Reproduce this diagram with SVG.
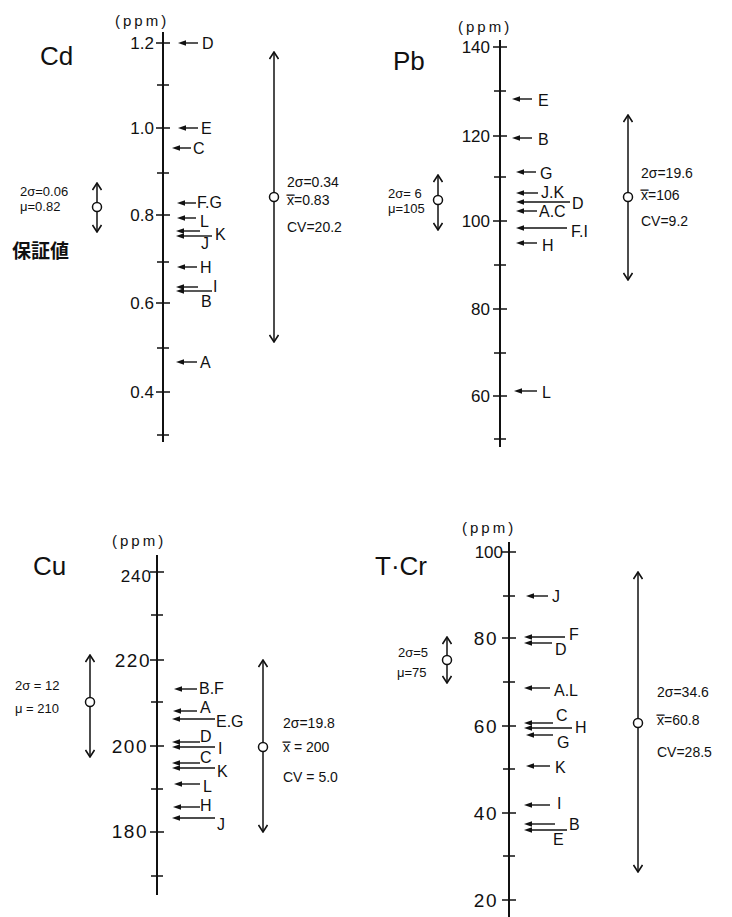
<svg xmlns="http://www.w3.org/2000/svg" width="732" height="917" viewBox="0 0 732 917">
<style>
text{font-family:"Liberation Sans","DejaVu Sans","Noto Sans CJK JP",sans-serif;fill:#111}
.ttl{font-size:26px}
.ppm{font-size:15px;letter-spacing:3px}
.tl{font-size:17px;text-anchor:end}
.tl2{font-size:19px;text-anchor:end;letter-spacing:1.5px}
.lb{font-size:16px}
.st{font-size:14px}
.ss{font-size:13px}
.ax{stroke:#111;stroke-width:2;fill:none}
.tk{stroke:#111;stroke-width:1.6;fill:none}
.pt{stroke:#111;stroke-width:1.4;fill:none;marker-end:url(#ph)}
.rg{stroke:#111;stroke-width:1.5;fill:none;marker-start:url(#vh);marker-end:url(#vh)}
.ci{fill:#fff;stroke:#111;stroke-width:1.5}
</style>
<defs>
<marker id="ph" viewBox="0 0 8 6" refX="1" refY="3" markerWidth="8" markerHeight="6" markerUnits="userSpaceOnUse" orient="auto">
<path d="M0,3 L8,0.3 L8,5.7 Z" fill="#111" transform="rotate(180 4 3)"/>
</marker>
<marker id="vh" viewBox="0 0 10 10" refX="9" refY="5" markerWidth="10" markerHeight="10" markerUnits="userSpaceOnUse" orient="auto-start-reverse">
<path d="M2,0.5 L9,5 L2,9.5" fill="none" stroke="#111" stroke-width="1.6"/>
</marker>
</defs>

<g id="cd">
<text class="ttl" x="40" y="65">Cd</text>
<text class="ppm" x="115" y="26">(ppm)</text>
<path class="ax" d="M163,32 V442"/>
<path class="tk" d="M156,43 H170 M157,85 H169 M156,128 H170 M157,173 H169 M156,215 H170 M157,262 H169 M156,303 H170 M157,348 H169 M156,392 H170 M157,435 H169"/>
<text class="tl" x="154" y="49">1.2</text>
<text class="tl" x="154" y="134">1.0</text>
<text class="tl" x="154" y="221">0.8</text>
<text class="tl" x="154" y="309">0.6</text>
<text class="tl" x="154" y="398">0.4</text>
<g id="cd-ptr">
<path class="pt" d="M198,43 H185"/><text class="lb" x="202" y="49">D</text>
<path class="pt" d="M198,128 H185"/><text class="lb" x="201" y="134">E</text>
<path class="pt" d="M191,148 H179"/><text class="lb" x="193" y="154">C</text>
<path class="pt" d="M196,203 H184"/><text class="lb" x="197" y="208">F.G</text>
<path class="pt" d="M196,218 H184"/><text class="lb" x="200" y="227">L</text>
<path class="pt" d="M200,231 H183"/><path class="pt" d="M212,236 H183"/>
<text class="lb" x="215" y="240">K</text><text class="lb" x="201" y="249">J</text>
<path class="pt" d="M197,267 H184"/><text class="lb" x="200" y="273">H</text>
<path class="pt" d="M198,287 H183"/><path class="pt" d="M212,291 H183"/>
<text class="lb" x="213" y="292">I</text><text class="lb" x="201" y="307">B</text>
<path class="pt" d="M197,362 H183"/><text class="lb" x="200" y="368">A</text>
</g>
<g id="cd-cert">
<text class="ss" x="20" y="196">2σ=0.06</text>
<text class="ss" x="20" y="211">μ=0.82</text>
<path class="rg" d="M97,183 V232"/><circle class="ci" cx="97" cy="207" r="4.5"/>
<text x="12" y="258" style="font-size:19px;font-weight:bold">保証値</text>
</g>
<g id="cd-range">
<path class="rg" d="M274,52 V342"/><circle class="ci" cx="274" cy="197" r="4.5"/>
<text class="st" x="287" y="187">2σ=0.34</text>
<text class="st" x="287" y="205">x̿=0.83</text>
<text class="st" x="287" y="232">CV=20.2</text>
</g>
</g>

<g id="pb">
<text class="ttl" x="393" y="70">Pb</text>
<text class="ppm" x="458" y="32">(ppm)</text>
<path class="ax" d="M500,40 V447"/>
<path class="tk" d="M493,47 H507 M494,91 H506 M493,136 H507 M494,177 H506 M493,221 H507 M494,265 H506 M493,309 H507 M494,353 H506 M493,396 H507 M494,439 H506"/>
<text class="tl" x="490" y="53">140</text>
<text class="tl" x="490" y="142">120</text>
<text class="tl" x="490" y="227">100</text>
<text class="tl" x="490" y="315">80</text>
<text class="tl" x="490" y="402">60</text>
<g id="pb-ptr">
<path class="pt" d="M532,99 H519"/><text class="lb" x="538" y="106">E</text>
<path class="pt" d="M532,138 H519"/><text class="lb" x="538" y="145">B</text>
<path class="pt" d="M536,172 H523"/><text class="lb" x="540" y="179">G</text>
<path class="pt" d="M538,193 H523"/><text class="lb" x="541" y="198">J.K</text>
<path class="pt" d="M570,202 H523"/><text class="lb" x="572" y="209">D</text>
<path class="pt" d="M537,211 H523"/><text class="lb" x="539" y="217">A.C</text>
<path class="pt" d="M567,228 H523"/><text class="lb" x="571" y="237">F.I</text>
<path class="pt" d="M537,243 H523"/><text class="lb" x="542" y="251">H</text>
<path class="pt" d="M537,391 H521"/><text class="lb" x="542" y="398">L</text>
</g>
<g id="pb-cert">
<text class="ss" x="388" y="198">2σ= 6</text>
<text class="ss" x="388" y="213">μ=105</text>
<path class="rg" d="M438,175 V230"/><circle class="ci" cx="438" cy="200" r="4.5"/>
</g>
<g id="pb-range">
<path class="rg" d="M628,115 V280"/><circle class="ci" cx="628" cy="197" r="4.5"/>
<text class="st" x="641" y="178">2σ=19.6</text>
<text class="st" x="641" y="200">x̿=106</text>
<text class="st" x="641" y="226">CV=9.2</text>
</g>
</g>

<g id="cu">
<text class="ttl" x="33" y="575">Cu</text>
<text class="ppm" x="112" y="546">(ppm)</text>
<path class="ax" d="M157,555 V895"/>
<path class="tk" d="M150,572 H164 M151,615 H163 M150,660 H164 M151,702 H163 M150,746 H164 M151,789 H163 M150,832 H164 M151,876 H163"/>
<text class="tl" x="152" y="582" style="letter-spacing:1px">240</text>
<text class="tl2" x="151" y="667">220</text>
<text class="tl2" x="148" y="753">200</text>
<text class="tl2" x="148" y="838">180</text>
<g id="cu-ptr">
<path class="pt" d="M197,689 H181"/><text class="lb" x="199" y="694">B.F</text>
<path class="pt" d="M197,711 H180"/><text class="lb" x="200" y="713">A</text>
<path class="pt" d="M215,719 H179"/><text class="lb" x="216" y="727">E.G</text>
<path class="pt" d="M200,742 H179"/><text class="lb" x="200" y="742">D</text>
<path class="pt" d="M215,747 H179"/><text class="lb" x="218" y="754">I</text>
<path class="pt" d="M200,763 H179"/><text class="lb" x="200" y="763">C</text>
<path class="pt" d="M215,768 H179"/><text class="lb" x="217" y="777">K</text>
<path class="pt" d="M200,784 H181"/><text class="lb" x="203" y="792">L</text>
<path class="pt" d="M200,807 H180"/><text class="lb" x="200" y="811">H</text>
<path class="pt" d="M215,818 H179"/><text class="lb" x="217" y="830">J</text>
</g>
<g id="cu-cert">
<text class="ss" x="15" y="690">2σ = 12</text>
<text class="ss" x="15" y="713">μ = 210</text>
<path class="rg" d="M90,655 V757"/><circle class="ci" cx="90" cy="702" r="4.5"/>
</g>
<g id="cu-range">
<path class="rg" d="M263,660 V832"/><circle class="ci" cx="263" cy="747" r="4.5"/>
<text class="st" x="283" y="728">2σ=19.8</text>
<text class="st" x="283" y="752">x̿ = 200</text>
<text class="st" x="283" y="782">CV = 5.0</text>
</g>
</g>

<g id="tcr">
<text class="ttl" x="375" y="575">T·Cr</text>
<text class="ppm" x="462" y="533">(ppm)</text>
<path class="ax" d="M509,542 V917"/>
<path class="tk" d="M502,552 H516 M503,596 H515 M502,638 H516 M503,682 H515 M502,726 H516 M503,769 H515 M502,813 H516 M503,856 H515 M502,900 H516"/>
<text class="tl" x="503" y="558">100</text>
<text class="tl2" x="498" y="645">80</text>
<text class="tl2" x="498" y="733">60</text>
<text class="tl2" x="498" y="820">40</text>
<text class="tl2" x="498" y="907">20</text>
<g id="tcr-ptr">
<path class="pt" d="M548,596 H533"/><text class="lb" x="552" y="602">J</text>
<path class="pt" d="M565,637 H531"/><text class="lb" x="569" y="640">F</text>
<path class="pt" d="M552,643 H531"/><text class="lb" x="555" y="655">D</text>
<path class="pt" d="M550,688 H531"/><text class="lb" x="554" y="696">A.L</text>
<path class="pt" d="M553,723 H531"/><text class="lb" x="556" y="721">C</text>
<path class="pt" d="M572,728 H531"/><text class="lb" x="575" y="733">H</text>
<path class="pt" d="M553,735 H533"/><text class="lb" x="557" y="748">G</text>
<path class="pt" d="M550,766 H533"/><text class="lb" x="555" y="773">K</text>
<path class="pt" d="M550,805 H531"/><text class="lb" x="557" y="809">I</text>
<path class="pt" d="M555,824 H531"/><text class="lb" x="569" y="830">B</text>
<path class="pt" d="M567,830 H531"/><text class="lb" x="553" y="845">E</text>
</g>
<g id="tcr-cert">
<text class="ss" x="398" y="657">2σ=5</text>
<text class="ss" x="397" y="677">μ=75</text>
<path class="rg" d="M447,637 V683"/><circle class="ci" cx="447" cy="660" r="4.5"/>
</g>
<g id="tcr-range">
<path class="rg" d="M638,572 V872"/><circle class="ci" cx="638" cy="723" r="4.5"/>
<text class="st" x="657" y="697">2σ=34.6</text>
<text class="st" x="657" y="725">x̿=60.8</text>
<text class="st" x="657" y="757">CV=28.5</text>
</g>
</g>
</svg>
